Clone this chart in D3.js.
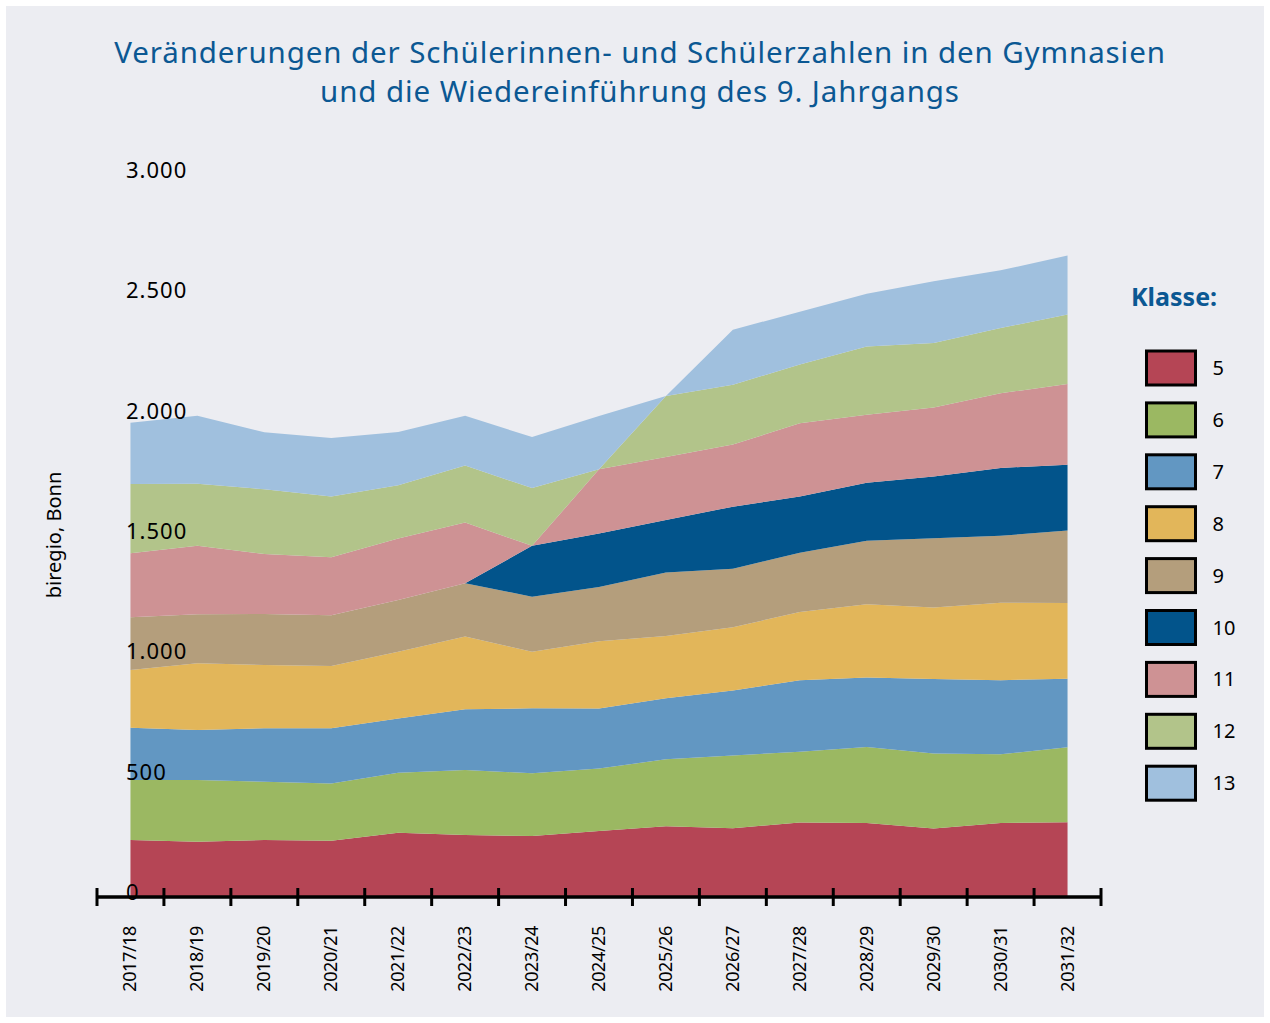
<!DOCTYPE html>
<html>
<head>
<meta charset="utf-8">
<script src="https://cdn.jsdelivr.net/npm/d3@7"></script>
<style>
  body { margin: 0; background: #fff; }
  text { font-family: "Noto Sans", sans-serif; }
</style>
</head>
<body>
<div id="chart"></div>
<script>
// Schuljahre (x-Achse)
const years = ["2017/18","2018/19","2019/20","2020/21","2021/22","2022/23","2023/24","2024/25",
  "2025/26","2026/27","2027/28","2028/29","2029/30","2030/31","2031/32"];

// Schülerzahlen je Klasse
const klasse5  = [237,230,237,234,267,258,253,274,294,286,310,308,285,308,311];
const klasse6  = [249,256,242,238,249,270,261,260,278,302,294,315,311,285,311];
const klasse7  = [217,208,222,229,226,252,270,249,254,270,297,289,310,308,285];
const klasse8  = [240,277,263,259,277,302,235,280,258,263,283,304,297,322,315];
const klasse9  = [219,204,212,211,215,222,229,225,264,243,246,264,288,278,301];
const klasse10 = [0,0,0,0,0,0,211,222,218,258,234,241,256,282,273];
const klasse11 = [266,284,249,241,256,252,0,267,262,258,304,283,287,310,336];
const klasse12 = [288,258,269,252,221,237,240,0,254,248,245,283,268,271,288];
const klasse13 = [255,283,237,243,221,207,212,222,0,229,219,220,257,240,245];

const keys = ["5","6","7","8","9","10","11","12","13"];
const colors = ["#b54555","#9bb862","#6297c2","#e2b65a","#b49e7c","#02548b","#ce9294","#b2c48a","#a0c0de"];
const yTicks = [0,500,1000,1500,2000,2500,3000];

(function(){
  const W = 1270, H = 1023;
  const blue = "#0b5893";

  const svg = d3.select("#chart").append("svg").attr("width", W).attr("height", H);
  svg.append("rect").attr("x", 6).attr("y", 6).attr("width", 1258).attr("height", 1011).attr("fill", "#ecedf2");

  // tabelle für d3.stack
  const series = [klasse5,klasse6,klasse7,klasse8,klasse9,klasse10,klasse11,klasse12,klasse13];
  const table = years.map((yr, i) => {
    let row = {year: yr};
    keys.forEach((k, j) => { row[k] = series[j][i]; });
    return row;
  });
  const stacked = d3.stack().keys(keys)(table);

  const x = d3.scalePoint().domain(years).range([97, 1101]).padding(0.5);
  const y = d3.scaleLinear().domain([0, 3000]).range([897, 175]);
  const color = d3.scaleOrdinal().domain(keys).range(colors);

  const area = d3.area()
    .x(d => x(d.data.year))
    .y0(d => y(d[0]))
    .y1(d => y(d[1]));

  svg.append("g").selectAll("path").data(stacked).join("path")
    .attr("fill", d => color(d.key))
    .attr("d", area);

  // titel
  const title = svg.append("text").attr("text-anchor", "middle").attr("fill", blue)
    .attr("font-size", 29.5).attr("letter-spacing", 0.9);
  title.append("tspan").attr("x", 640).attr("y", 63).text("Veränderungen der Schülerinnen- und Schülerzahlen in den Gymnasien");
  title.append("tspan").attr("x", 640).attr("y", 102).text("und die Wiedereinführung des 9. Jahrgangs");

  // y labels
  const de = d3.formatLocale({decimal: ",", thousands: ".", grouping: [3], currency: ["", "€"]});
  const fmt = de.format(",");
  svg.append("g").selectAll("text").data(yTicks).join("text")
    .attr("x", 126).attr("y", d => y(d) + 3)
    .attr("font-size", 22).attr("letter-spacing", 1).attr("fill", "#000")
    .text(d => fmt(d));

  svg.append("text")
    .attr("transform", "translate(61,535) rotate(-90)")
    .attr("text-anchor", "middle").attr("font-size", 20).attr("fill", "#000")
    .text("biregio, Bonn");

  // x achse
  const band = d3.scaleBand().domain(years).range([97, 1101]);
  const xAxis = svg.append("g");
  xAxis.append("line").attr("x1", 97).attr("x2", 1101).attr("y1", 897).attr("y2", 897)
    .attr("stroke", "#000").attr("stroke-width", 3.5);
  const edges = years.map(yr => band(yr)).concat([1101]);
  xAxis.selectAll("line.tick").data(edges).join("line").attr("class", "tick")
    .attr("x1", d => d).attr("x2", d => d).attr("y1", 888).attr("y2", 906)
    .attr("stroke", "#000").attr("stroke-width", 3);
  xAxis.selectAll("text").data(years).join("text")
    .attr("transform", d => `translate(${x(d) + 6},926) rotate(-90)`)
    .attr("text-anchor", "end").attr("font-size", 18).attr("letter-spacing", -0.4).attr("fill", "#000")
    .text(d => d);

  // legende
  svg.append("text").attr("x", 1131).attr("y", 306).attr("font-size", 25).attr("font-weight", "bold")
    .attr("fill", blue).text("Klasse:");
  const leg = svg.append("g").selectAll("g").data(keys).join("g")
    .attr("transform", (d, i) => `translate(1146.5, ${351 + i * 51.9})`);
  leg.append("rect").attr("width", 49).attr("height", 34)
    .attr("fill", d => color(d)).attr("stroke", "#000").attr("stroke-width", 3);
  leg.append("text").attr("x", 66).attr("y", 24).attr("font-size", 20).attr("fill", "#000").text(d => d);
})();
</script>
</body>
</html>
